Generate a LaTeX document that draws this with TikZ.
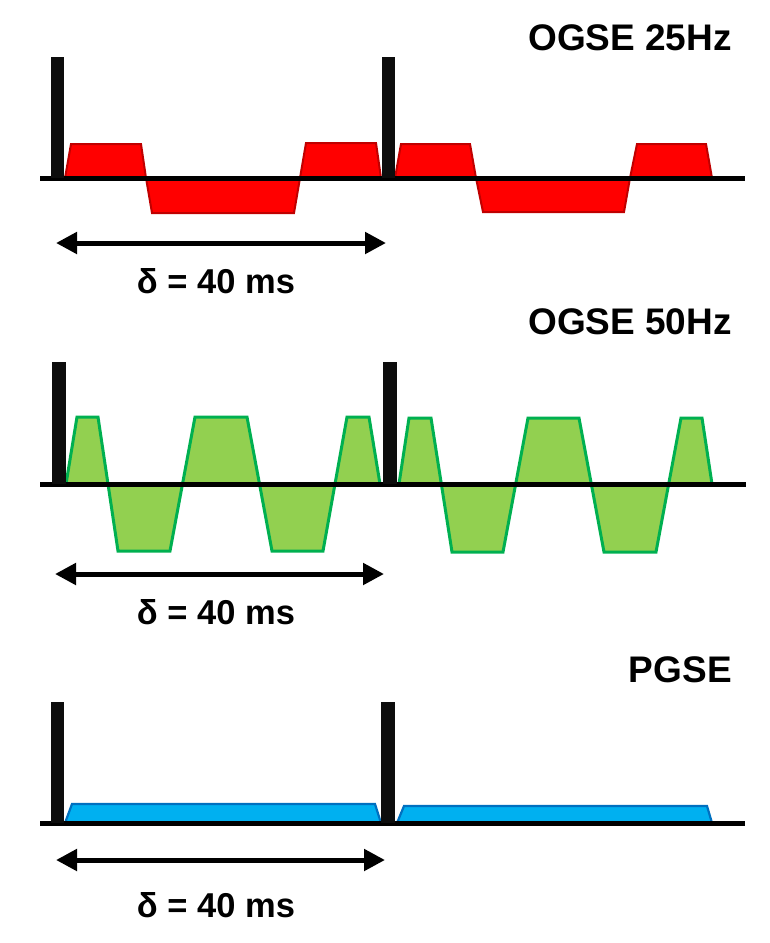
\documentclass[tikz,border=0pt]{standalone}
\usepackage{fontspec}
\setmainfont{Liberation Sans}
\usepackage{tikz}
\usetikzlibrary{arrows.meta}

\definecolor{pulseblack}{HTML}{0D0D0D}
\definecolor{redfill}{HTML}{FF0000}
\definecolor{reddraw}{HTML}{C00000}
\definecolor{greenfill}{HTML}{92D050}
\definecolor{greendraw}{HTML}{00B050}
\definecolor{bluefill}{HTML}{00B0F0}
\definecolor{bluedraw}{HTML}{0070C0}

\begin{document}
\begin{tikzpicture}[
        x=1pt, y=-1pt,
        title/.style={
            anchor=east,
            inner sep=0pt,
            font=\fontsize{37}{41}\selectfont\bfseries
        },
        delta/.style={
            inner sep=0pt,
            font=\fontsize{34.5}{39}\selectfont\bfseries
        },
        pulse/.style={fill=pulseblack, draw=none},
        axis/.style={line width=5pt, black},
        redlobe/.style={fill=redfill, draw=reddraw, line width=2pt},
        greenlobe/.style={fill=greenfill, draw=greendraw, line width=3pt},
        bluelobe/.style={fill=bluefill, draw=bluedraw, line width=2.2pt},
        arrow/.style={{Triangle[length=21pt,width=21pt]}-{Triangle[length=21pt,width=21pt]}, line width=5pt}
    ]
    \useasboundingbox (0,0) rectangle (770,943);

    % Panel 1
    \node[title] (t25) at (732,38) {OGSE 25Hz};

    \filldraw[redlobe] (65,178) -- (71,144) -- (141,144) -- (146,178) -- cycle;
    \filldraw[redlobe] (146,178) -- (152,213) -- (294,213) -- (300,178) -- cycle;
    \filldraw[redlobe] (300,178) -- (306,143) -- (376,143) -- (381,178) -- cycle;
    \filldraw[redlobe] (395,178) -- (401,144) -- (470,144) -- (476,178) -- cycle;
    \filldraw[redlobe] (476,178) -- (483,212) -- (624,212) -- (630,178) -- cycle;
    \filldraw[redlobe] (630,178) -- (637,144) -- (706,144) -- (712,178) -- cycle;

    \draw[axis] (40,178) -- (745,178);
    \fill[pulse] (51,57) rectangle (64,178);
    \fill[pulse] (382,57) rectangle (395,178);

    \coordinate (a25l) at (56,243);
    \coordinate (a25r) at (386,243);
    \draw[arrow] (a25l) -- (a25r);
    \node[delta] (d25) at (216,281) {δ = 40 ms};

    % Panel 2
    \node[title] (t50) at (732,322) {OGSE 50Hz};

    \filldraw[greenlobe] (66,484) -- (77,417) -- (98,417) -- (118,551) -- (170,551)
        -- (195,417) -- (247,417) -- (272,551) -- (323,551) -- (347,417)
        -- (369,417) -- (380,484) -- cycle;
    \filldraw[greenlobe] (399,484) -- (409,418) -- (431,418) -- (452,552) -- (503,552)
        -- (528,418) -- (579,418) -- (604,552) -- (656,552) -- (681,418)
        -- (702,418) -- (712,484) -- cycle;

    \draw[axis] (40,484) -- (746,484);
    \fill[pulse] (52,362) rectangle (66,484);
    \fill[pulse] (383,362) rectangle (397,484);

    \coordinate (a50l) at (55,574);
    \coordinate (a50r) at (384,574);
    \draw[arrow] (a50l) -- (a50r);
    \node[delta] (d50) at (216,612) {δ = 40 ms};

    % Panel 3
    \node[title] (tpg) at (732,670) {PGSE};

    \filldraw[bluelobe] (65,823) -- (72,804) -- (375,804) -- (381,823) -- cycle;
    \filldraw[bluelobe] (397,823) -- (404,806) -- (707,806) -- (712,823) -- cycle;

    \draw[axis] (40,823) -- (745,823);
    \fill[pulse] (51,702) rectangle (64,823);
    \fill[pulse] (381,702) rectangle (395,823);

    \coordinate (apgl) at (56,860);
    \coordinate (apgr) at (385,860);
    \draw[arrow] (apgl) -- (apgr);
    \node[delta] (dpg) at (216,905) {δ = 40 ms};

\end{tikzpicture}
\end{document}
